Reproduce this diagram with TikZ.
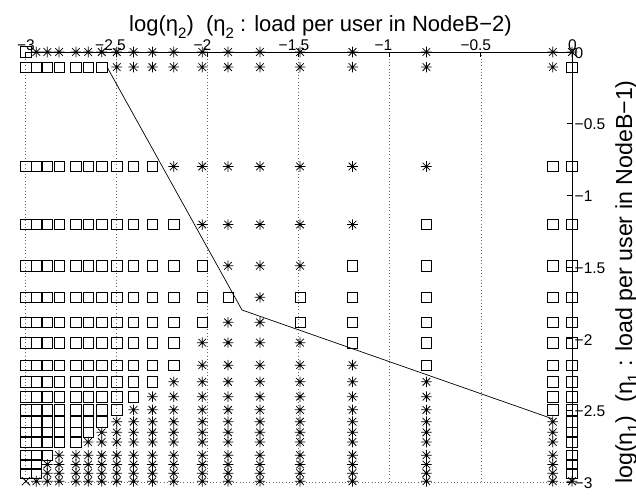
\documentclass[tikz,border=0pt]{standalone}
\usepackage{fontspec}
\setmainfont{Liberation Sans}
\newcommand\mysub[1]{\raisebox{-0.3em}{\fontsize{15}{15}\selectfont #1}}
\newcommand\mysubb[1]{\raisebox{-0.3em}{\fontsize{16}{16}\selectfont #1}}
\begin{document}
\begin{tikzpicture}[x=1pt,y=1pt,
  gridline/.style={black!60, line width=0.5pt, dash pattern=on 0.7pt off 2.6pt},
  axisline/.style={black, line width=0.7pt},
  ticklab/.style={font=\fontsize{15.5}{15.5}\selectfont, inner sep=0pt},
  axlab/.style={font=\fontsize{22}{22}\selectfont, inner sep=0pt},
  aylab/.style={font=\fontsize{23.2}{23.2}\selectfont, inner sep=0pt},
  sqm/.style={draw=black, line width=0.65pt, rectangle, minimum size=10.4pt, inner sep=0pt},
  astm/.style={rectangle, minimum size=12pt, inner sep=0pt, path picture={
     \coordinate (q) at (path picture bounding box.center);
     \draw[line width=0.75pt] ([yshift=5.3pt]q) -- ([yshift=-5.3pt]q)
        ([xshift=-5.3pt]q) -- ([xshift=5.3pt]q)
        ([shift={(-3.8pt,-3.8pt)}]q) -- ([shift={(3.8pt,3.8pt)}]q)
        ([shift={(-3.8pt,3.8pt)}]q) -- ([shift={(3.8pt,-3.8pt)}]q);}},
  xm/.style={rectangle, minimum size=12pt, inner sep=0pt, path picture={
     \coordinate (q) at (path picture bounding box.center);
     \draw[line width=0.75pt]
        ([shift={(-4.2pt,-4.2pt)}]q) -- ([shift={(4.2pt,4.2pt)}]q)
        ([shift={(-4.2pt,4.2pt)}]q) -- ([shift={(4.2pt,-4.2pt)}]q);}},
  boundary/.style={black, line width=0.7pt}]
\useasboundingbox (0,0) rectangle (636,-495);
\fill[white] (0,0) rectangle (636,-495);
\begin{scope}[shift={(572,-52)}, x=182.33pt, y=143.33pt]
  % grid
  \foreach \t in {-3,-2.5,-2,-1.5,-1,-0.5}{
    \draw[gridline] (\t,0) -- (\t,-3);
    \draw[gridline] (-3,\t+3) -- (0,\t+3);
  }
  \draw[gridline] (-3,-3) -- (0,-3);
  % axes
  \draw[axisline] (-3,0) -- (0,0) -- (0,-3);
  \foreach \t in {-3,-2.5,-2,-1.5,-1,-0.5,0}{
    \draw[axisline] (\t,0) -- ([yshift=-5pt]\t,0);
    \draw[axisline] (0,\t) -- ([xshift=-5pt]0,\t);
  }
  % markers
  \foreach \r/\a/\b in {0/1/19,1/7/18,2/10/17,3/11/16,4/12/15,5/13/14,6/12/14,7/11/15,8/11/16,9/10/17,10/9/17,11/8/17,12/7/18,13/6/18,14/5/18,15/3/18,16/2/18,17/2/18,18/1/19}{
    \ifnum\r>0 \pgfmathsetmacro\vy{ln(0.9/\r)}\else\def\vy{0}\fi
    \foreach \c in {0,...,18}{
      \ifnum\c<18 \pgfmathsetmacro\vx{ln(0.9/(18-\c))}\else\def\vx{0}\fi
      \def\mk{astm}%
      \ifnum\c<\a \def\mk{sqm}\fi
      \ifnum\c<\b \else\def\mk{sqm}\fi
      \ifnum\r=18 \ifnum\c=0 \def\mk{xm}\fi\fi
      \node[\mk] (m\r-\c) at (\vx,\vy) {};
    }
  }
  % boundary line
  \coordinate (p1) at (-2.55,-0.105);
  \coordinate (p2) at (-1.81,-1.80);
  \coordinate (p3) at (-0.105,-2.56);
  \draw[boundary] (p1) -- (p2) -- (p3);
\end{scope}
% tick labels (pixel coordinates)
\foreach \px/\l [count=\i] in {26/−3,110.5/−2.5,202.5/−2,294/−1.5,383.5/−1,475.8/−0.5,572.5/0}{
  \node[ticklab, anchor=base] (tx\i) at (\px,-50) {\l};
}
\foreach \py/\l [count=\i] in {53/0,124.5/−0.5,196/−1,268/−1.5,340/−2,411.5/−2.5,483.5/−3}{
  \node[ticklab, anchor=west] (ty\i) at (574.5,-\py) {\l};
}
% axis labels
\node[axlab, anchor=base] (xlab) at (320.5,-31.7) {log(η\mysub{2})\ \ (η\mysub{2} : load per user in NodeB−2)};
\node[aylab, anchor=base, rotate=90] (ylab) at (632,-282) {log(η\mysubb{1})\ \ (η\mysubb{1} : load per user in NodeB−1)};
\end{tikzpicture}
\end{document}
